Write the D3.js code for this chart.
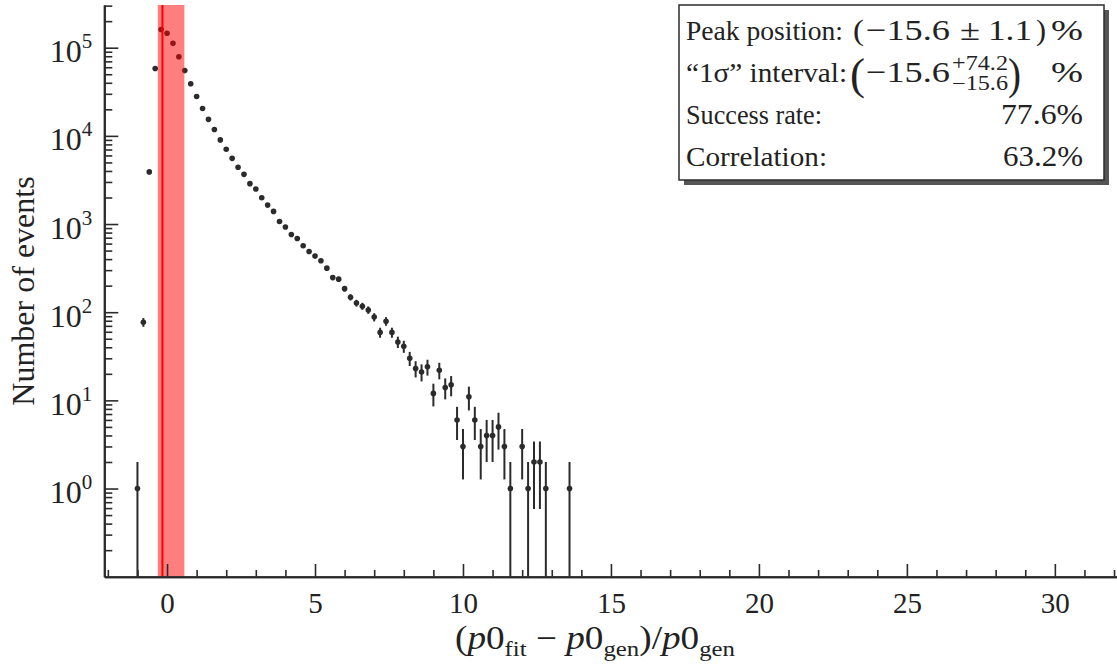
<!DOCTYPE html>
<html><head><meta charset="utf-8">
<script src="https://cdn.jsdelivr.net/npm/d3@7"></script>
<style>
body{margin:0;background:#fff}
svg{display:block}
text{font-family:"Liberation Serif","Times New Roman",serif;fill:#222}
</style>
</head><body><svg id="c" width="1117" height="665"></svg>
<script>
// ---- data ----
const binCenters = [-1.0,-0.8,-0.6,-0.4,-0.2,0.0,0.2,0.4,0.6,0.8,1.0,1.2,1.4,1.6,1.8,2.0,2.2,2.4,2.6,2.8,3.0,3.2,3.4,3.6,3.8,4.0,4.2,4.4,4.6,4.8,5.0,5.2,5.4,5.6,5.8,6.0,6.2,6.4,6.6,6.8,7.0,7.2,7.4,7.6,7.8,8.0,8.2,8.4,8.6,8.8,9.0,9.2,9.4,9.6,9.8,10.0,10.2,10.4,10.6,10.8,11.0,11.2,11.4,11.6,12.0,12.2,12.4,12.6,12.8,13.6];
const eventCounts = [1,77,3900,58000,161000,146000,112000,79000,55000,39000,28000,20400,15400,11800,9000,7040,5560,4400,3660,2870,2500,1990,1640,1390,1070,925,762,686,567,488,433,383,316,247,237,185,148,127,117,106,88,59,79,59,46,41,30,23,21,24,12,22,14,15,6,3,11,6,3,4,4,5,3,1,3,1,2,2,1,1];
const xMajorTicks = [0,5,10,15,20,25,30];
const xMajorLabels = ["0","5","10","15","20","25","30"];
const yDecadeTicks = [1,10,100,1000,10000,100000];
const yDecadeExponents = ["0","1","2","3","4","5"];
const peakPosition = -0.156, intervalPlus = 0.742, intervalMinus = 0.156;
const statLabels = ["Peak position:", "\u201C1\u03C3\u201D interval:", "Success rate:", "Correlation:"];
const successRate = "77.6%", correlation = "63.2%";

// ---- layout ----
const svg = d3.select("#c");
const X0 = 104.3, X1 = 1117, Y0 = 576.7, Y1 = 5;
const x = d3.scaleLinear().domain([-2.12, 32.1]).range([X0, X1]);
const y = d3.scaleLog().domain([0.1, 3.05e5]).range([Y0, Y1]);
const ink = "#2b2b2b";

// error bars and points
const data = binCenters.map((c,i)=>({c, n:eventCounts[i]}));
const gData = svg.append("g");
gData.selectAll("line.eb").data(data).join("line")
  .attr("x1", d=>x(d.c)).attr("x2", d=>x(d.c))
  .attr("y1", d=>y(Math.max(d.n - Math.sqrt(d.n), 0.1)))
  .attr("y2", d=>y(d.n + Math.sqrt(d.n)))
  .attr("stroke", ink).attr("stroke-width", 2);
gData.selectAll("circle").data(data).join("circle")
  .attr("cx", d=>x(d.c)).attr("cy", d=>y(d.n)).attr("r", 2.8).attr("fill", ink);

// band and peak line
svg.append("rect")
  .attr("x", x(peakPosition - intervalMinus)).attr("y", Y1)
  .attr("width", x(peakPosition + intervalPlus) - x(peakPosition - intervalMinus))
  .attr("height", Y0 - Y1).attr("fill", "#ff0000").attr("fill-opacity", 0.5);
svg.append("line").attr("x1", x(peakPosition)).attr("x2", x(peakPosition))
  .attr("y1", Y1).attr("y2", Y0).attr("stroke", "#ff0000").attr("stroke-width", 2);

// axes
function styleAxis(g){ g.selectAll("path.domain").attr("stroke", ink).attr("stroke-width", 2);
  g.selectAll(".tick line").attr("stroke", ink).attr("stroke-width", 1.6); }
const xMinor = d3.range(-2, 33, 1).filter(v=>v%5!==0);
svg.append("g").attr("transform", `translate(0,${Y0})`)
  .call(d3.axisBottom(x).tickValues(xMinor).tickSize(-6.7).tickSizeOuter(0).tickFormat(""))
  .call(styleAxis);
const gx = svg.append("g").attr("transform", `translate(0,${Y0})`)
  .call(d3.axisBottom(x).tickValues(xMajorTicks).tickSize(-12.7).tickSizeOuter(0)
        .tickPadding(16).tickFormat((d,i)=>xMajorLabels[i]))
  .call(styleAxis);
gx.selectAll("text").attr("font-size", 29).attr("font-family", "Liberation Serif").attr("fill", "#222");

const yMinor = [];
[0.1,1,10,100,1000,10000,100000].forEach(d=>{ for(let m=2;m<=9;m++){ if(d*m<=3.05e5) yMinor.push(d*m); } });
svg.append("g").attr("transform", `translate(${X0},0)`)
  .call(d3.axisLeft(y).tickValues(yMinor).tickSize(-8).tickSizeOuter(0).tickFormat(""))
  .call(styleAxis);
const gy = svg.append("g").attr("transform", `translate(${X0},0)`)
  .call(d3.axisLeft(y).tickValues(yDecadeTicks).tickSize(-14).tickSizeOuter(0).tickFormat(""))
  .call(styleAxis);
gy.selectAll(".tick").each(function(d,i){
  const t = d3.select(this).append("text").attr("x", -12).attr("y", 14)
    .attr("text-anchor","end").attr("font-size", 32).attr("fill","#222")
    .attr("font-family","Liberation Serif");
  t.append("tspan").text("10");
  t.append("tspan").attr("dy", -14).attr("font-size", 21).text(yDecadeExponents[i]);
});

// axis titles
svg.append("text").attr("transform", "translate(34,291) rotate(-90)")
  .attr("text-anchor","middle").attr("font-size", 32).text("Number of events");
const xt = svg.append("text").attr("x", 455).attr("y", 649).attr("font-size", 33)
  .attr("textLength", 280).attr("lengthAdjust","spacingAndGlyphs");
xt.append("tspan").text("(");
xt.append("tspan").attr("font-style","italic").text("p");
xt.append("tspan").text("0");
xt.append("tspan").attr("font-size",22).attr("dy",7).text("fit");
xt.append("tspan").attr("dy",-7).text(" \u2212 ");
xt.append("tspan").attr("font-style","italic").text("p");
xt.append("tspan").text("0");
xt.append("tspan").attr("font-size",22).attr("dy",7).text("gen");
xt.append("tspan").attr("dy",-7).text(")/");
xt.append("tspan").attr("font-style","italic").text("p");
xt.append("tspan").text("0");
xt.append("tspan").attr("font-size",22).attr("dy",7).text("gen");

// stats box
const bx = 679, by = 5, bw = 425, bh = 175;
svg.append("rect").attr("x", bx+5).attr("y", by+5).attr("width", bw).attr("height", bh).attr("fill", "#555");
svg.append("rect").attr("x", bx).attr("y", by).attr("width", bw).attr("height", bh)
  .attr("fill", "#fff").attr("stroke", ink).attr("stroke-width", 1.5);
const baselines = [40, 82, 124, 165.5];
const labelWidths = [157, 161, 136, 141];
const fs = 28, mfs = 30;
statLabels.forEach((s,i)=>{
  svg.append("text").attr("x", 686).attr("y", baselines[i]).attr("font-size", fs)
    .attr("textLength", labelWidths[i]).attr("lengthAdjust","spacingAndGlyphs").text(s);
});
function token(txt, x0, w, base, size){
  const t = svg.append("text").attr("x", x0).attr("y", base).attr("font-size", size || mfs).text(txt);
  if (w) t.attr("textLength", w).attr("lengthAdjust","spacingAndGlyphs");
  return t;
}
// line 1: (−15.6 ± 1.1)%
const b1 = baselines[0];
token("(", 853, 11, b1);
token("\u221215.6", 866, 84, b1);
token("\u00B1", 960, 20, b1);
token("1.1", 988, 44, b1);
token(")", 1036, 10, b1);
token("%", 1051, 32, b1);
// line 2: (−15.6 +74.2 −15.6) %
const b2 = baselines[1];
token("(", 850, 15, b2+7, 44);
token("\u221215.6", 866, 84, b2);
token("+74.2", 952, 56, b2-12, 20);
token("\u221215.6", 952, 56, b2+8, 20);
token(")", 1008, 13, b2+7, 44);
token("%", 1051, 32, b2);
// lines 3, 4
token(successRate, 1001, 82, baselines[2]);
token(correlation, 1003, 80, baselines[3]);
</script></body></html>
